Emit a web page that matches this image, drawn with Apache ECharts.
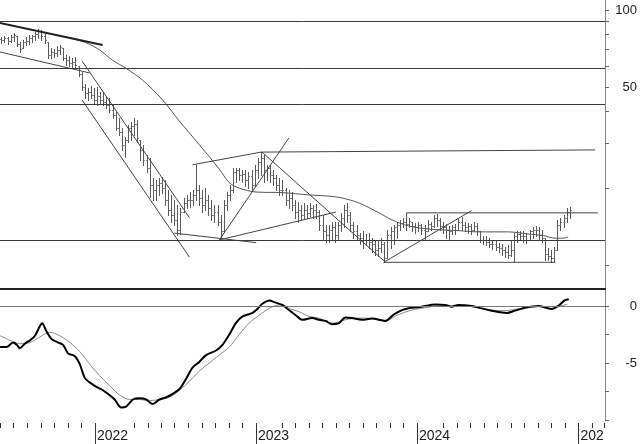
<!DOCTYPE html>
<html><head><meta charset="utf-8">
<script src="https://cdn.jsdelivr.net/npm/echarts@6/dist/echarts.min.js"></script>
<style>html,body{margin:0;padding:0;background:#fff}#c{width:640px;height:444px}</style>
</head><body><div id="c"></div>
<script>
// ---- weekly OHLC (week 0 = 2021-06-03) ----
const openP = [77.0,76.3,77.7,75.7,78.4,79.1,73.6,71.0,75.0,75.7,
77.7,79.1,80.6,82.8,79.1,75.0,66.7,68.5,67.9,69.8,
71.0,64.9,63.8,62.1,62.6,60.4,56.2,50.0,47.4,47.8,
46.5,44.5,46.1,44.5,43.7,42.5,40.6,38.9,34.6,33.3,
29.7,31.0,34.6,35.2,35.8,31.0,28.4,25.9,24.1,20.7,
19.8,20.7,21.1,20.1,18.1,16.5,15.8,15.1,13.8,16.2,
17.6,18.1,18.1,18.9,19.8,18.4,17.3,18.1,16.8,15.8,
16.2,14.8,13.6,17.3,18.9,19.8,23.3,23.7,22.6,22.8,
21.6,22.4,20.7,23.7,25.5,26.4,23.7,24.1,22.6,22.0,
20.7,19.8,19.8,18.1,18.4,17.3,16.2,16.5,15.8,16.5,
16.1,16.8,16.5,16.2,14.4,13.6,13.2,13.8,14.1,13.2,
14.4,15.4,16.5,15.8,14.4,13.6,13.2,12.8,12.6,12.6,
12.4,12.1,11.5,11.7,12.1,10.7,13.2,13.6,14.1,14.4,
14.7,14.8,14.6,14.8,14.3,14.1,14.4,13.8,13.6,14.6,
14.3,15.4,15.1,14.3,14.1,13.8,13.6,14.1,13.8,14.8,
14.4,14.1,14.3,13.8,14.3,13.6,12.6,12.6,12.4,12.2,
12.1,11.8,11.7,11.5,11.3,11.0,11.5,13.1,13.3,13.1,
13.1,12.6,13.6,13.8,13.8,13.2,12.8,11.1,10.9,10.7,
11.5,14.4,14.8,15.4,16.2];
const highP = [78.4,79.1,78.4,79.9,81.3,79.1,75.0,76.3,78.4,79.9,
79.9,82.0,84.3,83.5,80.6,75.0,71.0,70.4,72.3,73.0,
71.0,66.7,66.1,64.9,65.5,60.4,57.2,51.4,49.6,50.5,
49.6,50.0,47.8,47.4,46.1,45.3,42.5,39.9,37.8,34.6,
31.9,35.5,36.5,37.8,37.1,31.0,29.7,27.1,26.4,22.0,
21.6,22.0,22.2,21.6,19.8,18.9,18.1,17.3,16.8,18.4,
18.9,19.4,19.8,24.8,20.7,19.8,20.1,18.9,18.1,17.3,
17.3,15.8,18.1,19.4,20.7,24.1,24.1,24.1,23.7,23.7,
23.3,23.7,24.8,26.4,27.8,27.1,24.8,24.8,23.7,22.6,
22.0,21.6,20.1,19.8,19.4,18.1,17.8,17.3,17.6,17.3,
17.6,17.3,17.4,16.5,15.8,14.4,14.4,14.8,14.8,14.8,
16.1,17.3,17.6,16.2,14.8,14.4,13.4,13.6,13.3,13.4,
12.8,12.6,12.6,12.8,12.4,13.8,14.1,14.4,14.8,15.1,
15.4,15.1,15.4,14.8,14.7,14.8,14.6,14.4,15.1,14.8,
15.8,15.9,15.4,14.8,14.6,14.3,14.4,14.6,15.4,15.5,
14.8,14.7,14.6,14.8,14.7,13.6,13.1,13.0,12.8,12.6,
12.5,12.3,12.1,11.8,12.0,12.6,13.4,13.6,13.6,13.7,
13.4,13.8,14.1,14.3,14.1,13.8,12.8,11.7,11.5,11.8,
15.1,15.4,15.8,16.8,17.0];
const lowP = [74.3,75.0,73.6,75.0,75.7,72.3,68.5,71.0,73.0,73.6,
75.0,76.3,77.7,76.3,74.3,64.9,64.9,65.5,66.1,67.3,
63.8,61.0,60.4,59.9,59.3,55.2,48.7,45.3,44.5,45.3,
43.3,42.5,42.9,42.5,41.4,39.9,37.8,34.0,32.5,28.4,
26.6,30.5,31.0,32.5,30.5,25.9,24.8,23.3,18.6,18.1,
18.1,18.9,19.3,17.3,15.8,14.8,14.4,13.2,13.3,16.2,
16.8,17.0,17.3,18.1,17.3,16.2,16.5,15.8,15.1,14.8,
14.4,12.8,13.6,16.5,18.1,19.4,21.3,21.6,21.3,20.5,
20.1,19.8,20.5,22.0,22.6,21.3,21.6,21.3,20.7,19.8,
18.9,18.9,17.3,16.8,16.5,15.4,14.8,15.1,15.4,15.4,
15.7,15.4,15.4,13.8,12.6,12.4,12.4,12.6,12.4,12.6,
13.6,14.1,14.8,13.6,12.8,12.6,12.1,11.7,12.0,11.7,
11.3,11.0,10.9,11.3,10.3,10.7,11.7,12.1,12.8,13.8,
14.1,13.8,14.1,13.6,13.4,13.6,13.3,12.6,13.6,13.8,
14.1,14.3,13.8,13.4,12.8,12.6,13.3,13.3,13.8,13.8,
13.6,13.4,13.3,13.6,13.2,12.4,12.1,12.0,11.8,11.6,
11.5,11.3,11.0,10.8,10.7,10.9,10.3,12.4,12.6,12.4,
12.3,12.6,12.8,13.1,12.6,12.4,10.5,10.5,10.3,10.3,
11.5,13.8,14.1,14.8,15.4];
const closeP = [76.3,77.7,75.7,78.4,79.9,73.6,70.4,75.0,75.7,77.7,
79.1,80.6,82.8,79.1,76.3,66.7,68.5,67.9,69.8,71.7,
64.9,63.8,62.1,62.6,61.0,56.2,50.0,47.4,47.8,46.5,
44.5,46.1,44.5,43.7,42.5,40.6,38.9,34.6,33.3,29.7,
31.0,34.6,35.2,35.8,31.6,28.4,25.9,24.1,20.7,19.8,
20.7,21.1,20.1,18.1,16.5,15.8,15.1,13.8,16.2,17.6,
18.1,18.1,18.9,19.8,18.4,17.3,18.1,16.8,15.8,16.2,
14.8,13.6,17.3,18.9,19.8,23.3,23.7,22.6,22.8,21.6,
22.4,20.7,23.7,25.5,26.4,23.7,24.1,22.6,22.0,20.7,
19.8,19.8,18.1,18.4,17.3,16.2,16.5,15.8,16.5,16.1,
16.8,16.5,16.2,14.4,13.6,13.2,13.8,14.1,13.2,14.4,
15.4,16.5,15.8,14.4,13.6,13.2,12.8,12.6,12.6,12.4,
12.1,11.5,11.7,12.1,10.7,13.2,13.6,14.1,14.4,14.7,
14.8,14.6,15.0,14.3,14.1,14.4,13.8,13.6,14.6,14.3,
15.4,15.1,14.3,14.1,13.8,13.6,14.1,13.8,14.8,14.4,
14.1,14.3,13.8,14.3,13.6,12.6,12.6,12.4,12.2,12.1,
11.8,11.7,11.5,11.3,11.0,11.5,13.1,13.3,13.1,13.1,
12.6,13.6,13.8,13.8,13.2,12.8,11.1,10.9,10.7,11.5,
14.4,14.8,15.4,16.2,16.5];

// ---- moving average (week position, price) ----
const maWeek = [22.2,27.6,31.8,36.0,40.5,45.7,52.2,57.6,64.1,70.5,73.8,77.0,82.5,90.9,99.6,106.0,110.2,115.7,122.2,126.4,131.8,138.3,148.0,154.4,164.1,170.5,175.5,179.3,181.8,183.5];
const maVal  = [77.7,74.3,69.8,63.6,59.0,53.2,44.5,36.8,29.7,23.9,21.1,20.1,19.4,19.3,18.9,18.7,18.4,17.6,16.1,15.1,14.3,13.9,13.7,13.55,13.55,13.3,13.1,12.8,12.8,12.95];

// ---- oscillator (thick) and signal (thin) ----
const oscWeek = [-0.4,1.7,3.8,5.0,6.0,7.6,9.3,10.9,12.5,13.2,14.6,16.3,18.4,20.0,21.6,23.8,25.4,27.0,28.6,30.8,32.4,34.5,36.7,38.8,40.5,42.6,44.7,46.9,49.0,51.2,53.4,55.5,57.6,59.8,61.9,64.1,66.3,69.5,71.6,73.8,75.9,78.1,81.3,82.9,84.5,86.7,88.8,91.0,93.1,95.3,97.4,100.6,102.8,105.0,107.1,109.3,111.4,113.5,116.8,120.0,124.3,127.0,129.7,132.9,136.1,140.5,143.7,145.8,148.0,152.3,155.5,158.7,163.6,166.3,169.5,173.8,178.1,180.2,182.4,183.7];
const oscVal  = [-3.6,-3.6,-3.2,-3.4,-3.7,-3.3,-3.0,-2.6,-1.75,-1.5,-2.2,-2.9,-3.2,-3.4,-4.15,-4.4,-5.1,-6.3,-6.7,-7.1,-7.3,-7.7,-8.2,-8.9,-8.8,-8.2,-8.1,-8.2,-8.6,-8.2,-8.0,-7.7,-7.3,-6.4,-5.4,-4.9,-4.3,-3.9,-3.4,-2.5,-1.5,-0.9,-0.6,-0.25,0.2,0.5,0.3,0.1,-0.35,-0.8,-1.2,-1.05,-1.2,-1.3,-1.6,-1.5,-1.0,-1.05,-1.2,-1.1,-1.3,-0.75,-0.35,-0.15,-0.05,0.15,0.1,-0.05,0.1,0,-0.2,-0.4,-0.6,-0.4,-0.15,0,-0.25,0,0.5,0.6];
const sigWeek = [-0.4,2.8,6.0,9.3,12.5,15.7,18.9,22.2,25.4,28.6,31.8,35.1,38.3,41.5,44.7,48.0,51.2,54.4,57.6,60.9,64.1,67.3,70.5,73.8,77.0,80.2,83.5,86.7,89.9,93.1,96.4,99.6,102.8,107.1,111.4,115.7,120.0,124.3,128.6,132.9,137.2,141.5,145.8,150.1,154.4,158.7,163.0,167.3,171.6,175.9,180.2,183.2];
const sigVal  = [-2.6,-3.0,-3.3,-3.2,-2.7,-2.3,-2.6,-3.2,-4.0,-5.1,-6.1,-7.0,-7.8,-8.2,-8.2,-8.3,-8.2,-8.0,-7.4,-6.6,-5.7,-5.0,-4.3,-3.6,-2.5,-1.5,-0.8,-0.2,0.1,-0.2,-0.5,-0.9,-1.05,-1.5,-1.2,-1.05,-1.1,-1.3,-0.75,-0.35,-0.15,0,0,0,-0.15,-0.35,-0.4,-0.25,-0.05,-0.05,0,0.15];

// ---- horizontal levels and trend lines ([week, price] points) ----
const hLevels = [90, 59.2, 42.9, 12.6];
const trendThick = [[-0.45, 88.95],[32.8, 72.97]];
const trendLines = [
  [[-0.45, 68.5],[28.6, 56.7]],
  [[26.1, 63.2],[60.9, 15.4]],
  [[26.1, 44.5],[60.9, 10.8]],
  [[56.0, 13.4],[82.5, 12.3]],
  [[61.9, 24.8],[84.1, 27.8]],
  [[84.1, 27.8],[192.2, 28.35]],
  [[70.6, 12.6],[93.1, 31.6]],
  [[70.6, 12.6],[108.3, 16.2]],
  [[84.4, 27.8],[124.4, 10.3]],
  [[123.8, 10.3],[179.3, 10.3]],
  [[123.8, 10.3],[152.2, 16.4]],
  [[131.2, 14.96],[131.2, 16.08],[193.1, 16.08]]
];

// ---- axis ticks / labels ----
const yearTickDates = ['2022-01-01','2023-01-01','2024-01-01','2025-01-01'];
const yearTickLabels = ['2022','2023','2024','202'];
const hiddenMonths = ['2022-02','2022-03','2023-02','2024-02'];
const priceTicks = [10,20,30,40,50,60,70,80,90,100];
const priceLabels = [50,100];
const oscTicks = [-10,-7.5,-5,-2.5,0];
const oscLabels = [-5,0];

const DAY = 86400000;
const t0 = Date.UTC(2021,5,3);
const wk = w => t0 + w*7*DAY;
const xMin = Date.UTC(2021,4,31), xMax = Date.UTC(2025,2,2);
const yearTs = yearTickDates.map(d => Date.parse(d+'T00:00:00Z'));
const monthTs = [];
for (let y=2021; y<=2025; y++) for (let m=0; m<12; m++) {
  const t = Date.UTC(y,m,1);
  const key = y+'-'+String(m+1).padStart(2,'0');
  if (t < xMin || t > xMax) continue;
  if (m===0 || hiddenMonths.includes(key)) continue;
  monthTs.push(t);
}
const bars = openP.map((o,i)=>[wk(i), o, closeP[i], lowP[i], highP[i]]);
const pts = (ws, vs) => ws.map((w,i)=>[wk(w), vs[i]]);
const lineOf = arr => arr.map(p=>[wk(p[0]), p[1]]);

const FONT = 'Liberation Sans, Arial, sans-serif';
const barColor = '#5a5a5a';
const series = [
  { type:'custom', xAxisIndex:0, yAxisIndex:0, data:bars, encode:{x:0,y:[1,2,3,4]},
    renderItem:(params, api)=>{
      const t = api.value(0);
      const pO = api.coord([t, api.value(1)]);
      const pC = api.coord([t, api.value(2)]);
      const pL = api.coord([t, api.value(3)]);
      const pH = api.coord([t, api.value(4)]);
      const xi = Math.round(pH[0]);
      return {type:'group', children:[
        {type:'line', shape:{x1:xi+0.5,y1:Math.round(pH[1]),x2:xi+0.5,y2:Math.round(pL[1])+1}, style:{stroke:barColor,lineWidth:1}},
        {type:'rect', shape:{x:xi-1,y:Math.round(pO[1]),width:1,height:1}, style:{fill:'#888'}},
        {type:'rect', shape:{x:xi+1,y:Math.round(pC[1]),width:1,height:1}, style:{fill:'#888'}}
      ]};
    }
  },
  { type:'line', xAxisIndex:0, yAxisIndex:0, data:pts(maWeek, maVal), smooth:0.3, showSymbol:false, symbol:'none',
    lineStyle:{color:'#555', width:1}, silent:true,
    markLine:{symbol:'none', silent:true, label:{show:false}, lineStyle:{color:'#3a3a3a', type:'solid', width:1},
      data: hLevels.map(v=>({yAxis:v}))} },
  { type:'line', xAxisIndex:0, yAxisIndex:0, data:lineOf(trendThick), symbol:'none', lineStyle:{color:'#222', width:2}, silent:true }
];
trendLines.forEach(tl => series.push({ type:'line', xAxisIndex:0, yAxisIndex:0, data:lineOf(tl), symbol:'none', lineStyle:{color:'#444', width:1}, silent:true }));
series.push({ type:'line', xAxisIndex:1, yAxisIndex:1, data:pts(sigWeek, sigVal), smooth:0.3, symbol:'none', lineStyle:{color:'#8a8a8a', width:1}, silent:true,
  markLine:{symbol:'none', silent:true, label:{show:false}, lineStyle:{color:'#777', type:'solid', width:1}, data:[{yAxis:0}]} });
series.push({ type:'line', xAxisIndex:1, yAxisIndex:1, data:pts(oscWeek, oscVal), smooth:0.3, symbol:'none', lineStyle:{color:'#000', width:2}, silent:true });

const chart = echarts.init(document.getElementById('c'), null, {renderer:'canvas'});
chart.setOption({
  animation:false,
  backgroundColor:'#fff',
  grid:[{left:0,right:34,top:0,height:289},{left:0,right:34,top:289,height:131}],
  xAxis:[
    {type:'value', gridIndex:0, position:'bottom', min:xMin, max:xMax, axisLine:{show:true,onZero:false,lineStyle:{color:'#222',width:2}}, axisTick:{show:false}, axisLabel:{show:false}, splitLine:{show:false}},
    {type:'value', gridIndex:1, position:'bottom', min:xMin, max:xMax, offset:3, axisLine:{show:false,onZero:false}, axisTick:{show:true,length:5,customValues:monthTs,lineStyle:{color:'#333'}}, axisLabel:{show:false}, splitLine:{show:false}},
    {type:'value', gridIndex:1, position:'bottom', min:xMin, max:xMax, offset:3, axisLine:{show:false,onZero:false}, axisTick:{show:true,length:21,customValues:yearTs,lineStyle:{color:'#333'}},
      axisLabel:{show:true, customValues:yearTs, formatter:(v)=>{const i=yearTs.indexOf(v); return i>=0?yearTickLabels[i]:'';}, align:'left', margin:6, padding:[0,0,0,2], fontSize:14, color:'#222', fontFamily:FONT, hideOverlap:false, showMinLabel:true, showMaxLabel:true}, splitLine:{show:false}}
  ],
  yAxis:[
    {type:'log', gridIndex:0, position:'right', min:8.1, max:109.4, axisLine:{show:true,lineStyle:{color:'#888'}},
      axisTick:{show:true,length:4,customValues:priceTicks,lineStyle:{color:'#666'}},
      axisLabel:{show:true,customValues:priceLabels,align:'right',margin:32,fontSize:13,color:'#222',fontFamily:FONT}, splitLine:{show:false}},
    {type:'value', gridIndex:1, position:'right', min:-10, max:1.5, axisLine:{show:true,lineStyle:{color:'#888'}},
      axisTick:{show:true,length:4,customValues:oscTicks,lineStyle:{color:'#666'}},
      axisLabel:{show:true,customValues:oscLabels,align:'right',margin:32,fontSize:13,color:'#222',fontFamily:FONT}, splitLine:{show:false}}
  ],
  series
});
</script>
</body></html>
